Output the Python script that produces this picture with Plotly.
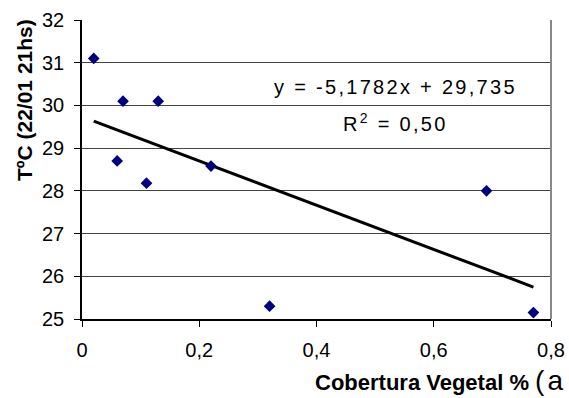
import plotly.graph_objects as go

# Data
cobertura = [0.02, 0.07, 0.13, 0.06, 0.11, 0.22, 0.32, 0.69, 0.77]
temperatura = [31.1, 30.1, 30.1, 28.7, 28.18, 28.58, 25.3, 28.0, 25.15]

# Trendline coefficients as printed on the chart
slope = -5.1782
intercept = 29.735
eq_text = "y = -5,1782x + 29,735"
r2_text = "R<sup>2</sup> = 0,50"

x_tickvals = [0, 0.2, 0.4, 0.6, 0.8]
x_ticktext = ["0", "0,2", "0,4", "0,6", "0,8"]
y_tickvals = [25, 26, 27, 28, 29, 30, 31, 32]

x_title = ("<b>Cobertura Vegetal %</b> "
           "<span style='font-size:28px;letter-spacing:3px'>(a</span>")
y_title = "<b>TºC (22/01 21hs)</b>"

FONT = "Liberation Sans, Arial, sans-serif"
SPACED = "<span style='letter-spacing:2.3px'>{}</span>"

fig = go.Figure()

trend_x = [min(cobertura), max(cobertura)]
trend_y = [slope * v + intercept for v in trend_x]
fig.add_trace(go.Scatter(x=trend_x, y=trend_y, mode="lines",
                         line=dict(color="black", width=3), hoverinfo="skip"))

fig.add_trace(go.Scatter(x=cobertura, y=temperatura, mode="markers",
                         marker=dict(symbol="diamond", size=9, color="#000080",
                                     line=dict(width=0))))

fig.update_layout(
    width=569, height=398,
    margin=dict(l=82, r=18, t=20, b=79),
    paper_bgcolor="white", plot_bgcolor="white",
    showlegend=False,
    font=dict(family=FONT, size=20, color="black"),
    xaxis=dict(range=[0, 0.8], tickvals=x_tickvals, ticktext=x_ticktext,
               showgrid=False, zeroline=False, showline=True, linecolor="black",
               linewidth=1.5, ticks="outside", ticklen=6, tickcolor="black",
               tickfont=dict(size=20), ticklabelstandoff=6, automargin=False),
    yaxis=dict(range=[25, 32], tickvals=y_tickvals, showgrid=True,
               gridcolor="#444444", gridwidth=1, zeroline=False, showline=True,
               linecolor="black", linewidth=1.5, ticks="outside", ticklen=6,
               tickcolor="black", tickfont=dict(size=20), ticklabelstandoff=6,
               automargin=False),
    shapes=[dict(type="line", xref="paper", yref="paper", x0=1, x1=1, y0=0, y1=1,
                 line=dict(color="#888888", width=2))],
    annotations=[
        dict(x=0.5348, y=30.43, xref="x", yref="y",
             text=SPACED.format(eq_text), showarrow=False,
             font=dict(size=20)),
        dict(x=0.5348, y=29.61, xref="x", yref="y",
             text=SPACED.format(r2_text), showarrow=False,
             font=dict(size=20)),
        dict(x=(24 - 82) / 469, y=(319 - 100) / 299, xref="paper", yref="paper",
             text=y_title, textangle=-90, showarrow=False,
             xanchor="center", yanchor="middle", font=dict(size=21)),
        dict(x=(313 - 82) / 469, y=(319 - 380) / 299, xref="paper", yref="paper",
             text=x_title, showarrow=False, xanchor="left", yanchor="middle",
             font=dict(size=22)),
    ],
)

fig.write_html("out.html", config={"displayModeBar": False},
               post_script="document.body.style.margin='0';")
